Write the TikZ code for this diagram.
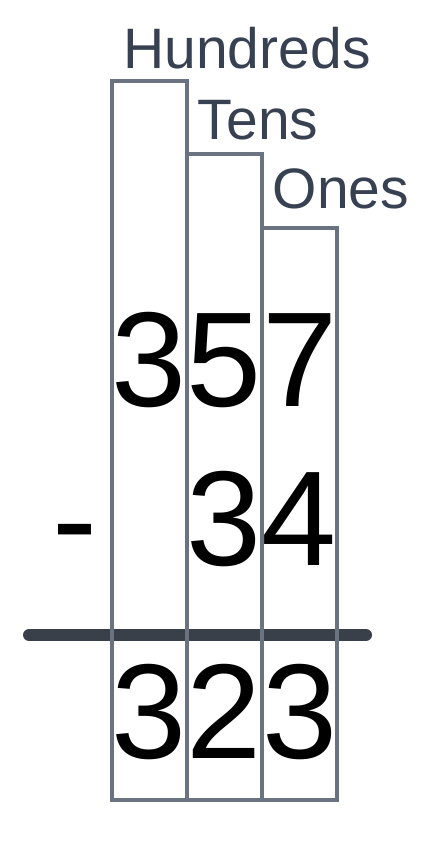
\documentclass[tikz,border=0pt]{standalone}
\usepackage{fontspec}
\setmainfont{Liberation Sans}
\usepackage{xcolor}
\definecolor{boxgray}{HTML}{6B7280}
\definecolor{bargray}{HTML}{394049}
\definecolor{labelgray}{HTML}{374151}

\begin{document}
\begin{tikzpicture}[x=1pt,y=-1pt,
    colbox/.style={draw=boxgray,line width=4pt},
    colname/.style={labelgray,anchor=base,inner sep=0pt,font=\fontsize{57}{57}\selectfont},
    digits/.style={black,anchor=base,inner sep=0pt,font=\fontsize{135}{135}\selectfont}]

      \useasboundingbox (0,0) rectangle (425,849);

      % answer line
      \coordinate (barL) at (29,635);
      \coordinate (barR) at (366,635);
      \draw[bargray,line width=12pt,line cap=round] (barL) -- (barR);

      % place value columns
      \draw[colbox] (112,81) rectangle (187,800);
      \draw[colbox] (187,154) rectangle (262,800);
      \draw[colbox] (262,228) rectangle (337,800);

      \node[colname] (hundreds) at (247,68) {Hundreds};
      \node[colname] (tens) at (258,139) {Tens};
      \node[colname] (ones) at (341,208) {Ones};

      \node[digits] (minuend) at (224.5,406) {357};
      \node[digits] (subtrahend) at (262,565) {34};
      \node[digits] (minus) at (75,565) {-};
      \node[digits] (difference) at (224.5,758) {323};

    \end{tikzpicture}
\end{document}
